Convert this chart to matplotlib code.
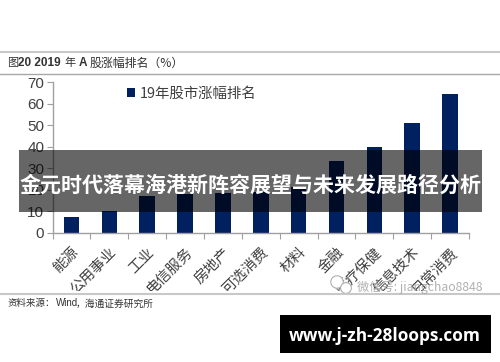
import matplotlib
matplotlib.use('Agg')
import matplotlib.pyplot as plt
from matplotlib.patches import Rectangle
from matplotlib.transforms import Bbox

plt.rcParams['font.family'] = ['Noto Sans CJK SC', 'DejaVu Sans']

W, H = 500, 362

# Values
categories = ['能源', '公用事业', '工业', '电信服务', '房地产', '可选消费',
              '材料', '金融', '医疗保健', '信息技术', '日常消费']
values = [7.5, 10, 17, 18, 18.5, 19, 21, 33.5, 40, 51, 64.5]
y_ticks = [0, 10, 20, 30, 40, 50, 60, 70]

fig = plt.figure(figsize=(W / 100, H / 100), dpi=100)

# Chart area
ax = fig.add_axes([52.5 / W, 1 - 232.7 / H, (469 - 52.5) / W, (232.7 - 82) / H])
x = list(range(len(categories)))
bars = ax.bar(x, values, width=0.41, color='#002060', label='19年股市涨幅排名')
ax.set_xlim(-0.5, len(categories) - 0.5)
ax.set_ylim(0, 70)
ax.set_yticks(y_ticks)
ax.set_yticklabels(y_ticks, family=['Liberation Sans'], fontsize=11, color='#404040')
ax.set_xticks([i - 0.5 for i in range(len(categories) + 1)])
ax.set_xticklabels([])
ax.tick_params(axis='both', length=4, width=0.8, color='#a0a0a0', pad=2)
ax.tick_params(axis='y', direction='out')
for s in ['top', 'right']:
    ax.spines[s].set_visible(False)
for s in ['left', 'bottom']:
    ax.spines[s].set_color('#a0a0a0')
    ax.spines[s].set_linewidth(1)

# Rotated category labels, cut off at the rule under the chart
clip = Bbox([[0, H - 291], [W, H]])
for i, name in enumerate(categories):
    t = ax.annotate(name, xy=(i, 0), xytext=(0, -9), xycoords=('data', 'axes fraction'),
                    textcoords='offset points', rotation=45, ha='right', va='top',
                    rotation_mode='anchor', fontsize=10.5, color='#404040')
    t.set_clip_box(clip)
    t.set_clip_on(True)

# Legend
ax.legend(loc='upper left', bbox_to_anchor=(0.18, 0.97), frameon=False, fontsize=10.4,
          handlelength=0.55, handleheight=0.55, handletextpad=0.3, labelcolor='#404040',
          borderpad=0, borderaxespad=0)

# Page overlay in pixel coordinates
page = fig.add_axes([0, 0, 1, 1], facecolor='none')
page.set_xlim(0, W)
page.set_ylim(H, 0)
page.axis('off')

page.axhline(52, color='#c8c8c8', lw=1.5)
page.axhline(74, color='#a8a8a8', lw=1)
page.axhline(294, color='#c8c8c8', lw=1.5)

page.text(7, 63, '图', fontsize=8, color='#333333', va='center')
page.text(18, 63, '20 2019', fontsize=8.5, fontweight='bold', family=['Liberation Sans'],
          color='#333333', va='center')
page.text(64, 63, '年', fontsize=8, color='#333333', va='center')
page.text(79, 63, 'A', fontsize=8.5, fontweight='bold', family=['Liberation Sans'],
          color='#333333', va='center')
page.text(90, 63, '股涨幅排名（%）', fontsize=8.6, color='#333333', va='center')

page.text(7, 303.5, '资料来源：', fontsize=6.8, color='#333333', va='center')
page.text(56, 303.5, 'Wind', fontsize=7, family=['Liberation Sans'], color='#333333', va='center')
page.text(76, 303.5, '，海通证券研究所', fontsize=7, color='#333333', va='center')

# Watermark
page.scatter([337, 346], [282, 288], s=[80, 60], facecolor='white', edgecolor='#b0b0b0', lw=0.8)
page.text(357, 287, '微信号: jiangchao8848', fontsize=8.8, color='#a8a8a8', va='center',
          ha='left', alpha=0.9)

# Headline banner
page.add_patch(Rectangle((19, 150), 463, 62, facecolor='black', alpha=0.6, edgecolor='none'))
page.text(250.5, 185, '金元时代落幕海港新阵容展望与未来发展路径分析', fontsize=15.1,
          fontweight='bold', color='white', ha='center', va='center')

# Site box
page.add_patch(Rectangle((280, 315), 211, 38, facecolor='black', edgecolor='none'))
page.text(385, 336, 'www.j-zh-28loops.com', fontsize=12.4, fontweight='bold',
          family=['Open Sans'], color='white', ha='center', va='center')

fig.savefig('out.png', dpi=100)
